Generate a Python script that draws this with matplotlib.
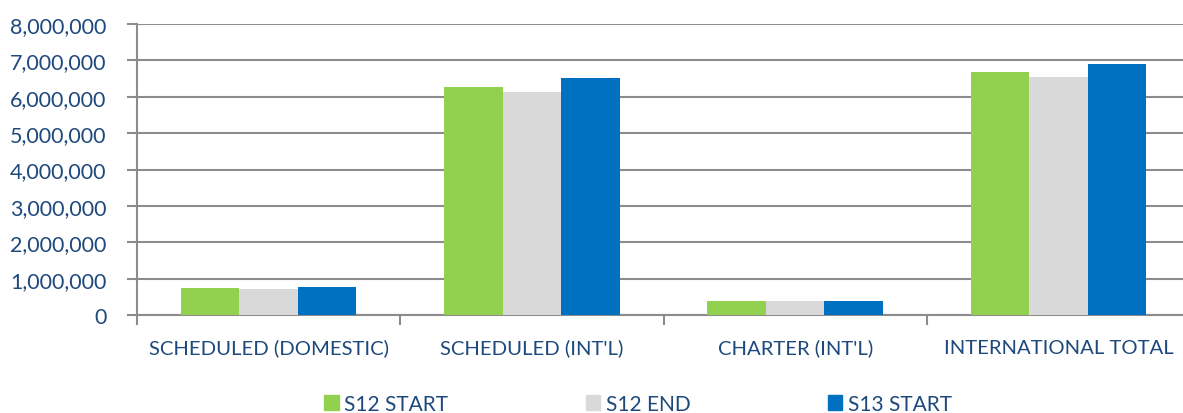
import numpy as np
from matplotlib import pyplot as plt
from matplotlib.patches import Patch
from matplotlib.ticker import FuncFormatter

categories = ["SCHEDULED (DOMESTIC)", "SCHEDULED (INT'L)", "CHARTER (INT'L)", "INTERNATIONAL TOTAL"]
series = ["S12 START", "S12 END", "S13 START"]
s12_start = [740000, 6270000, 385000, 6680000]
s12_end = [720000, 6120000, 385000, 6530000]
s13_start = [770000, 6520000, 375000, 6910000]
colors = ["#92D050", "#D9D9D9", "#0070C0"]

txt = "#1F497D"
grid = "#8C8C8C"
plt.rcParams['font.family'] = ['Lato', 'DejaVu Sans']

W, H = 1183, 414
fig = plt.figure(figsize=(W / 100, H / 100), dpi=100)
ax = fig.add_axes([137 / W, 1 - 316 / H, (1190 - 137) / W, (316 - 25) / H])

x = np.arange(len(categories))
bw = 0.222
for i, (vals, c) in enumerate(zip([s12_start, s12_end, s13_start], colors)):
    ax.bar(x + (i - 1) * bw, vals, width=bw, color=c, zorder=3)

ax.set_xlim(-0.5, len(categories) - 0.5)
ax.set_ylim(0, 8000000)
ax.set_yticks(np.arange(0, 8000001, 1000000))
ax.yaxis.set_major_formatter(FuncFormatter(lambda v, p: f"{int(v):,}"))
ax.grid(axis='y', color=grid, linewidth=1.5, zorder=0)

# category ticks sit on group boundaries, labels in the middle
ax.set_xticks(np.arange(-0.5, len(categories)), minor=False)
ax.set_xticklabels([])
ax.set_xticks(x, minor=True)
ax.set_xticklabels(categories, minor=True)
ax.tick_params(axis='x', which='major', length=7, width=1.5, color=grid)
ax.tick_params(axis='x', which='minor', length=0, pad=17, labelsize=14.6, labelcolor=txt)
ax.tick_params(axis='y', length=7, width=1.5, color=grid, labelsize=15.5, labelcolor=txt, pad=15)

for s in ['top', 'right']:
    ax.spines[s].set_visible(False)
for s in ['left', 'bottom']:
    ax.spines[s].set_color(grid)
    ax.spines[s].set_linewidth(1.5)

handles = [Patch(color=c, label=s) for s, c in zip(series, colors)]
fig.legend(handles=handles, loc='center', bbox_to_anchor=(638 / W, 1 - 405 / H), ncol=3,
           frameon=False, fontsize=15, labelcolor=txt, handlelength=0.7, handleheight=0.7,
           handletextpad=0.25, columnspacing=6.6, borderaxespad=0)

fig.savefig("out.png", dpi=100)
